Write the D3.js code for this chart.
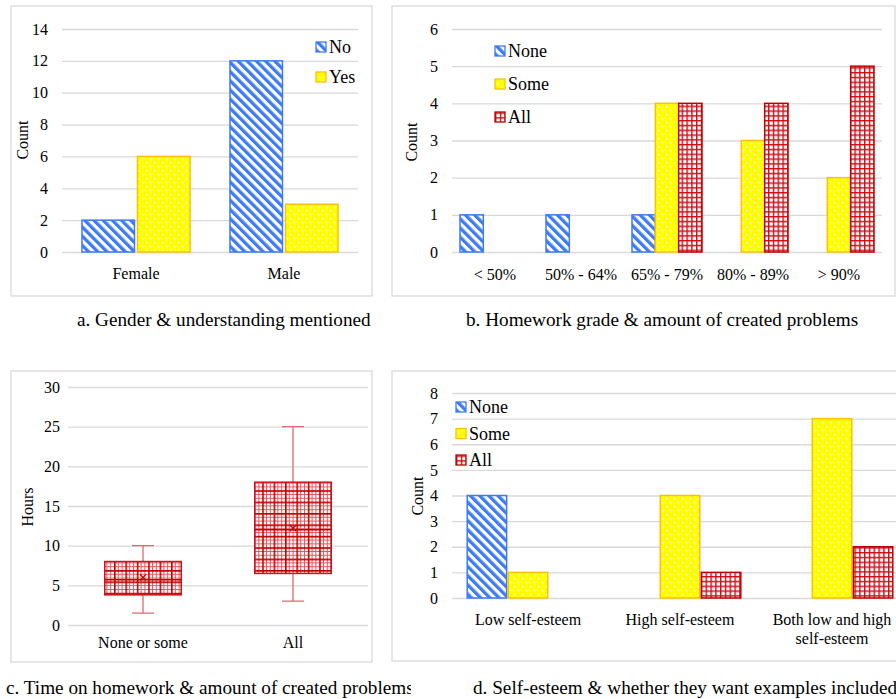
<!DOCTYPE html>
<html lang="en">
<head>
  <meta charset="UTF-8">
  <title>Homework survey charts</title>
  <style>
    body { margin: 0; background: #fff; }
    svg { display: block; font-family: "Liberation Serif", "Times New Roman", serif; }
    .tick text { font-size: 16px; fill: #000; font-family: "Liberation Serif", "Times New Roman", serif; }
    .grid line { stroke: #d9d9d9; stroke-width: 1.3; }
  </style>
</head>
<body>
  <svg width="896" height="699"></svg>

  <script src="https://d3js.org/d3.v7.min.js"></script>
  <script>
    // a. gender
    const genderCats = ["Female", "Male"];
    const genderSeries = ["No", "Yes"];
    const genderNo = [2, 12];
    const genderYes = [6, 3];

    // b. homework grade
    const gradeCats = ["< 50%", "50% - 64%", "65% - 79%", "80% - 89%", "> 90%"];
    const gradeSeries = ["None", "Some", "All"];
    const gradeNone = [1, 1, 1, 0, 0];
    const gradeSome = [0, 0, 4, 3, 2];
    const gradeAll = [0, 0, 4, 4, 5];

    // c. time on homework (box plot)
    const timeCats = ["None or some", "All"];
    const timeMin = [1.5, 3];
    const timeQ1 = [3.8, 6.5];
    const timeMedian = [5.7, 12];
    const timeQ3 = [8, 18];
    const timeMax = [10, 25];
    const timeMean = [6, 12.2];

    // d. self-esteem
    const esteemCats = ["Low self-esteem", "High self-esteem", "Both low and high self-esteem"];
    const esteemLabels = [["Low self-esteem"], ["High self-esteem"], ["Both low and high", "self-esteem"]];
    const esteemSeries = ["None", "Some", "All"];
    const esteemNone = [4, 0, 0];
    const esteemSome = [1, 4, 7];
    const esteemAll = [0, 1, 2];

    const svg = d3.select("svg");
    const defs = svg.append("defs");

    // fill patterns
    const stripe = defs.append("pattern").attr("id", "stripe")
      .attr("patternUnits", "userSpaceOnUse").attr("width", 6.5).attr("height", 6.5)
      .attr("patternTransform", "rotate(-45)");
    stripe.append("rect").attr("width", 6.5).attr("height", 6.5).attr("fill", "#fff");
    stripe.append("rect").attr("width", 3.3).attr("height", 6.5).attr("fill", "#3d7bf2");

    const dots = defs.append("pattern").attr("id", "dots")
      .attr("patternUnits", "userSpaceOnUse").attr("width", 8).attr("height", 8);
    dots.append("rect").attr("width", 8).attr("height", 8).attr("fill", "#ffff00");
    dots.append("rect").attr("x", 2).attr("y", 2).attr("width", 1.2).attr("height", 1.2).attr("fill", "#fff");
    dots.append("rect").attr("x", 6).attr("y", 6).attr("width", 1.2).attr("height", 1.2).attr("fill", "#fff");

    const grid = defs.append("pattern").attr("id", "grid")
      .attr("patternUnits", "userSpaceOnUse").attr("width", 4.8).attr("height", 4.8);
    grid.append("rect").attr("width", 4.8).attr("height", 4.8).attr("fill", "#fff");
    grid.append("path").attr("d", "M0.7,0V4.8M0,0.7H4.8")
      .attr("stroke", "#d0101a").attr("stroke-width", 1.5);

    const boxGrid = defs.append("pattern").attr("id", "boxgrid")
      .attr("patternUnits", "userSpaceOnUse").attr("width", 11.4).attr("height", 11.4);
    boxGrid.append("rect").attr("width", 11.4).attr("height", 11.4).attr("fill", "#fff");
    boxGrid.append("path").attr("d", "M4.3,0V11.4M8.1,0V11.4M0,4.3H11.4M0,8.1H11.4")
      .attr("stroke", "#e2585e").attr("stroke-width", 1.1);
    boxGrid.append("path").attr("d", "M0.8,0V11.4M0,0.8H11.4")
      .attr("stroke", "#c00000").attr("stroke-width", 1.6);

    const seriesFill = { No: "url(#stripe)", Yes: "url(#dots)", None: "url(#stripe)", Some: "url(#dots)", All: "url(#grid)" };
    const seriesStroke = { No: "#3d7bf2", Yes: "#ffc000", None: "#3d7bf2", Some: "#ffc000", All: "#c00000" };

    function frame(x0, y0, x1, y1) {
      svg.append("rect").attr("x", x0).attr("y", y0)
        .attr("width", x1 - x0).attr("height", y1 - y0)
        .attr("fill", "none").attr("stroke", "#d9d9d9").attr("stroke-width", 1.3);
    }

    function yAxis(y, x0, x1, step, pad) {
      const ticks = d3.range(y.domain()[0], y.domain()[1] + step / 2, step);
      const g = svg.append("g").attr("class", "grid")
        .attr("transform", `translate(${x0},0)`)
        .call(d3.axisLeft(y).tickValues(ticks).tickFormat(d3.format("d"))
          .tickSize(-(x1 - x0)).tickPadding(pad));
      g.attr("font-family", null).attr("font-size", null);
      g.select(".domain").remove();
    }

    function yTitle(text, x, y) {
      svg.append("text").attr("transform", `translate(${x},${y}) rotate(-90)`)
        .attr("text-anchor", "middle").attr("font-size", 16).text(text);
    }

    function barPanel(o) {
      const x = d3.scaleBand().domain(o.cats).range(o.xRange)
        .paddingInner(o.pad).paddingOuter(o.pad / 2);
      const xs = d3.scaleBand().domain(o.series).range([0, x.bandwidth()]).paddingInner(o.innerPad);
      const y = d3.scaleLinear().domain([0, o.yMax]).range(o.yRange);

      yAxis(y, o.xRange[0], o.xRange[1], o.yStep, o.tickPad);

      const rows = [];
      o.series.forEach((s, si) => o.cats.forEach((c, ci) => {
        if (o.values[si][ci] > 0) rows.push({ s, c, v: o.values[si][ci] });
      }));
      svg.append("g").selectAll("rect").data(rows).join("rect")
        .attr("x", d => x(d.c) + xs(d.s))
        .attr("y", d => y(d.v))
        .attr("width", xs.bandwidth())
        .attr("height", d => y(0) - y(d.v))
        .attr("fill", d => seriesFill[d.s])
        .attr("stroke", d => seriesStroke[d.s])
        .attr("stroke-width", 1.5);

      const labels = o.labels || o.cats.map(c => [c]);
      const lab = svg.append("g").selectAll("text").data(o.cats).join("text")
        .attr("x", c => x(c) + x.bandwidth() / 2)
        .attr("y", o.labelY)
        .attr("text-anchor", "middle").attr("font-size", 16);
      lab.each(function (c, i) {
        d3.select(this).selectAll("tspan").data(labels[i]).join("tspan")
          .attr("x", x(c) + x.bandwidth() / 2)
          .attr("dy", (t, j) => j === 0 ? 0 : 19)
          .text(t => t);
      });

      const leg = svg.append("g").selectAll("g").data(o.series).join("g")
        .attr("transform", (s, i) => `translate(${o.legend.x},${o.legend.y + i * o.legend.dy})`);
      leg.append("rect").attr("x", 0).attr("y", -10).attr("width", 10).attr("height", 10)
        .attr("fill", s => seriesFill[s]).attr("stroke", s => seriesStroke[s]).attr("stroke-width", 1.3);
      leg.append("text").attr("x", 13).attr("y", 1).attr("font-size", 18).text(s => s);

      yTitle("Count", o.titleX, o.titleY);
    }

    // panel a
    frame(11, 6, 372, 296);
    barPanel({
      cats: genderCats, series: genderSeries, values: [genderNo, genderYes],
      xRange: [62, 358], yRange: [252, 29], yMax: 14, yStep: 2, tickPad: 14,
      pad: 0.27, innerPad: 0.055, labelY: 279,
      legend: { x: 316, y: 52, dy: 30 }, titleX: 28, titleY: 140
    });

    // panel b
    frame(392, 6, 895, 296);
    barPanel({
      cats: gradeCats, series: gradeSeries, values: [gradeNone, gradeSome, gradeAll],
      xRange: [452, 882], yRange: [252, 29], yMax: 6, yStep: 1, tickPad: 14,
      pad: 0.186, innerPad: 0, labelY: 280,
      legend: { x: 495, y: 56, dy: 33 }, titleX: 417, titleY: 142
    });

    // panel d
    frame(392, 371, 910, 661);
    barPanel({
      cats: esteemCats, labels: esteemLabels, series: esteemSeries,
      values: [esteemNone, esteemSome, esteemAll],
      xRange: [452, 908], yRange: [598, 393], yMax: 8, yStep: 1, tickPad: 14,
      pad: 0.2, innerPad: 0.04, labelY: 625,
      legend: { x: 456, y: 412, dy: 26.5 }, titleX: 423, titleY: 496
    });

    // panel c: box plot
    frame(11, 371, 372, 662);
    const xc = d3.scaleBand().domain(timeCats).range([68, 368]).paddingInner(0.49).paddingOuter(0.245);
    const yc = d3.scaleLinear().domain([0, 30]).range([625, 387]);
    yAxis(yc, 68, 368, 5, 8);
    const boxes = timeCats.map((c, i) => ({
      c, min: timeMin[i], q1: timeQ1[i], med: timeMedian[i], q3: timeQ3[i], max: timeMax[i], mean: timeMean[i]
    }));
    const bx = svg.append("g").selectAll("g").data(boxes).join("g");
    const cx = d => xc(d.c) + xc.bandwidth() / 2;
    bx.append("path")
      .attr("d", d => `M${cx(d)},${yc(d.max)}V${yc(d.q3)}M${cx(d)},${yc(d.q1)}V${yc(d.min)}` +
        `M${cx(d) - 11},${yc(d.max)}H${cx(d) + 11}M${cx(d) - 11},${yc(d.min)}H${cx(d) + 11}`)
      .attr("stroke", "#e06a6f").attr("stroke-width", 1.3).attr("fill", "none");
    bx.append("rect")
      .attr("x", d => xc(d.c)).attr("y", d => yc(d.q3))
      .attr("width", xc.bandwidth()).attr("height", d => yc(d.q1) - yc(d.q3))
      .attr("fill", "url(#boxgrid)").attr("stroke", "#d0101a").attr("stroke-width", 1.5);
    bx.append("line")
      .attr("x1", d => xc(d.c)).attr("x2", d => xc(d.c) + xc.bandwidth())
      .attr("y1", d => yc(d.med)).attr("y2", d => yc(d.med))
      .attr("stroke", "#c00000").attr("stroke-width", 1.6);
    bx.append("path")
      .attr("d", d => `M${cx(d) - 3},${yc(d.mean) - 3}l6,6M${cx(d) + 3},${yc(d.mean) - 3}l-6,6`)
      .attr("stroke", "#c00000").attr("stroke-width", 1.2);
    svg.append("g").selectAll("text").data(timeCats).join("text")
      .attr("x", c => xc(c) + xc.bandwidth() / 2).attr("y", 648)
      .attr("text-anchor", "middle").attr("font-size", 16).text(c => c);
    yTitle("Hours", 33, 507);

    // captions
    const captions = [
      { t: "a. Gender & understanding mentioned", x: 77, y: 326 },
      { t: "b. Homework grade & amount of created problems", x: 466, y: 326 },
      { t: "c. Time on homework & amount of created problems", x: 6, y: 694, clip: 411 },
      { t: "d. Self-esteem & whether they want examples included", x: 473, y: 694 }
    ];
    defs.append("clipPath").attr("id", "capclip")
      .append("rect").attr("x", 0).attr("y", 660).attr("width", 411).attr("height", 40);
    svg.append("g").selectAll("text").data(captions).join("text")
      .attr("x", d => d.x).attr("y", d => d.y)
      .attr("clip-path", d => d.clip ? "url(#capclip)" : null)
      .attr("font-size", 19.2).text(d => d.t);
  </script>
</body>
</html>
